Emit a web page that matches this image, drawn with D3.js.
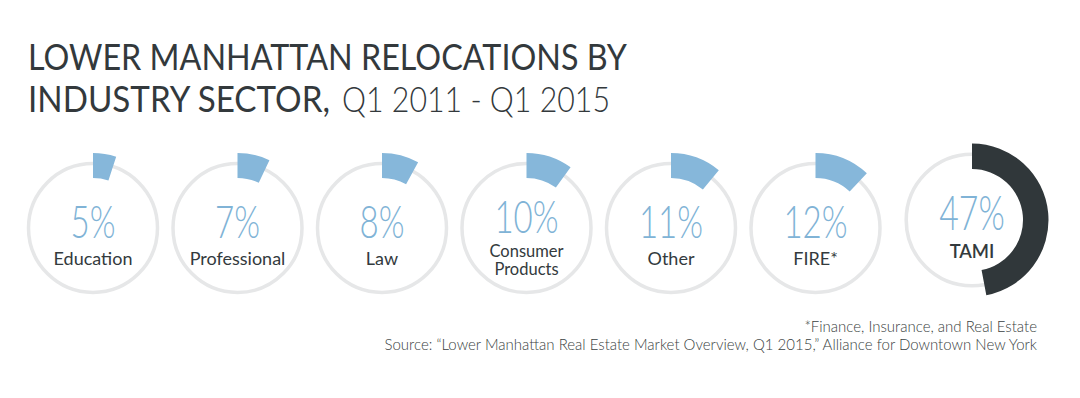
<!DOCTYPE html>
<html>
<head>
<meta charset="utf-8">
<script src="https://cdn.jsdelivr.net/npm/d3@7"></script>
<style>
  body { margin: 0; background: #fff; }
  svg { display: block; }
</style>
</head>
<body>
<script>
// data
var sectors = ["Education", "Professional", "Law", "Consumer Products", "Other", "FIRE*", "TAMI"];
var shares = [5, 7, 8, 10, 11, 12, 47];
var highlight = "TAMI";
var footnotes = [
    "*Finance, Insurance, and Real Estate",
    "Source: \u201cLower Manhattan Real Estate Market Overview, Q1 2015,\u201d Alliance for Downtown New York"
];

var w = 1080, h = 398;
var font = "Lato, 'Open Sans', sans-serif";
var svg = d3.select("body").append("svg").attr("width", w).attr("height", h);

// title, squeezed to the width of the original's narrower face
var titleParts = [
    {t: "LOWER MANHATTAN RELOCATIONS BY", x: 28, y: 70, len: 599, wt: 400},
    {t: "INDUSTRY SECTOR,", x: 28, y: 112, len: 302, wt: 400},
    {t: "Q1 2011 - Q1 2015", x: 342, y: 112, len: 268, wt: 300}
];
svg.selectAll("text.title")
    .data(titleParts)
    .enter()
    .append("text")
    .attr("class", "title")
    .attr("x", function (d) { return d.x; })
    .attr("y", function (d) { return d.y; })
    .attr("textLength", function (d) { return d.len; })
    .attr("lengthAdjust", "spacingAndGlyphs")
    .attr("font-family", font).attr("font-size", 36)
    .attr("font-weight", function (d) { return d.wt; })
    .attr("fill", "#33393c")
    .text(function (d) { return d.t; });

var x = d3.scalePoint().domain(sectors).range([93, 960]);
var angle = d3.scaleLinear().domain([0, 100]).range([0, 2 * Math.PI]);

var ringR = 64.5;
var arc = d3.arc().innerRadius(50).outerRadius(75).startAngle(0)
    .endAngle(function (d) { return angle(d.v); });

var rows = sectors.map(function (s, i) { return {name: s, v: shares[i]}; });

var g = svg.selectAll("g.gauge")
    .data(rows)
    .enter()
    .append("g")
    .attr("class", "gauge")
    .attr("transform", function (d) {
        var hi = d.name === highlight;
        return "translate(" + (x(d.name) + (hi ? 12 : 0)) + "," + (hi ? 220 : 228) + ")" + (hi ? " scale(1.02)" : "");
    });

g.append("circle")
    .attr("r", ringR)
    .attr("fill", "none")
    .attr("stroke", "#e6e7e8")
    .attr("stroke-width", 3.5);

g.append("path")
    .attr("d", arc)
    .attr("fill", function (d) { return d.name === highlight ? "#30373a" : "#86b7da"; });

g.append("text")
    .attr("text-anchor", "middle")
    .attr("transform", function (d) {
        var two = d.name.indexOf(" ") > 0;
        return "translate(0," + (two ? 5 : 10) + ") scale(0.72,1)";
    })
    .attr("font-family", font).attr("font-weight", 300).attr("font-size", 46)
    .attr("fill", "#80b3d6")
    .text(function (d) { return d.v + "%"; });

g.each(function (d) {
    var words = d.name.split(" ");
    var lbl = d3.select(this).append("text")
        .attr("text-anchor", "middle")
        .attr("font-family", font)
        .attr("font-weight", d.name === highlight ? 600 : 400)
        .attr("fill", "#333a3d");
    if (words.length > 1) {
        lbl.attr("font-size", 16.5);
        words.forEach(function (wd, k) {
            lbl.append("tspan").attr("x", 0).attr("y", 29 + k * 18).text(wd);
        });
    } else {
        lbl.attr("font-size", 18).attr("y", 37).text(d.name);
    }
});

svg.selectAll("text.note")
    .data(footnotes)
    .enter()
    .append("text")
    .attr("class", "note")
    .attr("x", 1037)
    .attr("y", function (d, i) { return 332 + i * 18; })
    .attr("text-anchor", "end")
    .attr("font-family", font).attr("font-weight", 300).attr("font-size", 15)
    .attr("fill", "#3a3f42")
    .text(function (d) { return d; });
</script>
</body>
</html>
